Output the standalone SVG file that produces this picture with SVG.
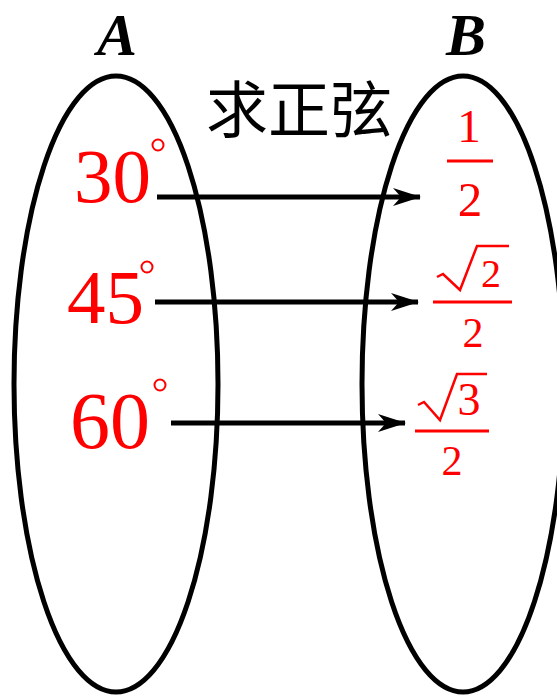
<svg xmlns="http://www.w3.org/2000/svg" width="557" height="696" viewBox="0 0 557 696">
<style>
.set{fill:none;stroke:#000;stroke-width:5}
.lbl{font-family:"Liberation Serif","Times New Roman","DejaVu Serif",serif;font-weight:bold;font-style:italic;font-size:60px;fill:#000}
.deg{font-family:"Liberation Serif","Times New Roman","DejaVu Serif",serif;font-size:77px;fill:#f00}
.dc{fill:none;stroke:#f00;stroke-width:2}
.frac{font-family:"Liberation Serif","Times New Roman","DejaVu Serif",serif;fill:#f00;text-anchor:middle}
.bar{stroke:#f00;stroke-width:3}
.rad{fill:none;stroke:#f00;stroke-width:2.5;stroke-linejoin:miter}
.arr{stroke:#000;stroke-width:5;fill:none}
.cn{font-family:"Noto Sans CJK SC",sans-serif;font-size:62px;fill:#000}
</style>
<defs>
<marker id="ah" markerWidth="28" markerHeight="18" refX="27" refY="9" orient="auto" markerUnits="userSpaceOnUse" viewBox="0 0 28 18">
<path d="M0,0 L28,9 L0,18 L8,9 Z" fill="#000"/>
</marker>
</defs>
<g id="setA">
<ellipse class="set" cx="116" cy="384" rx="102" ry="308"/>
<text class="lbl" x="97" y="55">A</text>
</g>
<g id="setB">
<ellipse class="set" cx="463" cy="384" rx="101" ry="308"/>
<text class="lbl" x="446" y="55">B</text>
</g>
<g id="label">
<text class="cn" x="206" y="133">求正弦</text>
</g>
<g id="a30">
<text class="deg" x="74" y="202">30</text>
<circle class="dc" cx="158" cy="145" r="5.5"/>
</g>
<g id="a45">
<text class="deg" x="67" y="323">45</text>
<circle class="dc" cx="147" cy="267" r="5.5"/>
</g>
<g id="a60">
<text class="deg" x="70" y="448" style="font-size:80px">60</text>
<circle class="dc" cx="160" cy="385" r="5.5"/>
</g>
<g id="b1">
<text class="frac" x="469" y="142" font-size="47">1</text>
<line class="bar" x1="447" y1="161" x2="493" y2="161"/>
<text class="frac" x="470" y="216" font-size="49">2</text>
</g>
<g id="b2">
<polyline class="rad" points="437,277 443,274 460,290 477,246 509,246"/>
<text class="frac" x="491" y="287" font-size="40">2</text>
<line class="bar" x1="433" y1="302" x2="512" y2="302"/>
<text class="frac" x="473" y="347" font-size="42">2</text>
</g>
<g id="b3">
<polyline class="rad" points="418,405 424,402 440,420 457,374 487,374"/>
<text class="frac" x="469" y="415" font-size="46">3</text>
<line class="bar" x1="415" y1="431" x2="489" y2="431"/>
<text class="frac" x="452" y="475" font-size="42">2</text>
</g>
<g id="connectors">
<line class="arr" x1="157" y1="197" x2="420" y2="197" marker-end="url(#ah)"/>
<line class="arr" x1="155" y1="302" x2="418" y2="302" marker-end="url(#ah)"/>
<line class="arr" x1="171" y1="423" x2="405" y2="423" marker-end="url(#ah)"/>
</g>
</svg>
